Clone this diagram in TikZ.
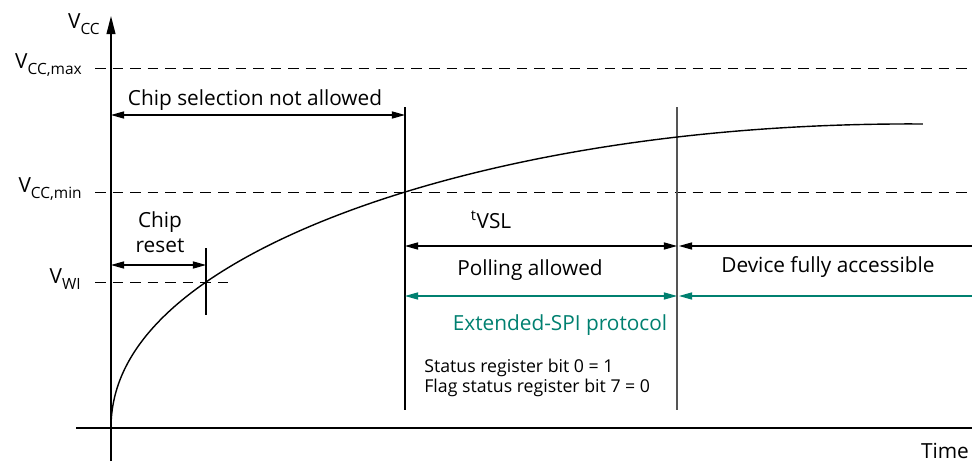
\documentclass[tikz,border=0pt]{standalone}
\usepackage{fontspec}
\setmainfont{Open Sans}
\usetikzlibrary{arrows.meta,positioning}
\definecolor{spiteal}{RGB}{0,128,112}
\definecolor{markgray}{RGB}{85,85,85}
\newcommand{\vsub}[1]{\raisebox{-4.5pt}{\fontsize{11}{11}\selectfont #1}}

\begin{document}
\begin{tikzpicture}[
  x=0.025cm, y=-0.025cm,
  font=\fontsize{14.8}{17.8}\selectfont,
  axis/.style={line width=1pt},
  guide/.style={line width=0.7pt, dash pattern=on 7.5pt off 5pt},
  marker/.style={line width=1pt},
  span/.style={line width=0.8pt, {Triangle[length=3.3mm,width=1.8mm]}-{Triangle[length=3.3mm,width=1.8mm]}},
  lspan/.style={line width=0.8pt, {Triangle[length=3.3mm,width=1.8mm]}-},
  lbl/.style={inner sep=0pt, align=center},
  small/.style={inner sep=0pt, align=left, font=\fontsize{12.6}{14.2}\selectfont}
]
\useasboundingbox (0,0) rectangle (972,461);

\coordinate (ybot) at (111,461);
\coordinate (ytop) at (111,16);
\coordinate (xleft) at (76,428);
\coordinate (xright) at (992,428);

\coordinate (maxl) at (95,68);   \coordinate (maxr) at (972,68);
\coordinate (minl) at (95,192);  \coordinate (minr) at (972,192);
\coordinate (wil) at (95,282);   \coordinate (wir) at (228,282);

\coordinate (selA) at (111,115); \coordinate (selB) at (405,115);
\coordinate (rstA) at (111,265); \coordinate (rstB) at (206,265);
\coordinate (rstT) at (206,248); \coordinate (rstU) at (206,315);

\coordinate (vslT) at (405,107); \coordinate (vslU) at (405,410);
\coordinate (accT) at (677,107); \coordinate (accU) at (677,410);

\coordinate (polA) at (405,246); \coordinate (polB) at (677,246);
\coordinate (devA) at (679,246); \coordinate (devB) at (972,246);
\coordinate (extA) at (405,296); \coordinate (extB) at (677,296);
\coordinate (ex2A) at (679,296); \coordinate (ex2B) at (972,296);

\node[lbl, anchor=base east] (vcc) at (100,28) {V\vsub{CC}};
\node[lbl, anchor=base east] (vmax) at (82,68) {V\vsub{CC,max}};
\node[lbl, anchor=base east] (vmin) at (82,192) {V\vsub{CC,min}};
\node[lbl, anchor=base east] (vwi) at (81,283) {V\vsub{WI}};
\node[lbl, anchor=base] (time) at (945,458) {Time};

\node[lbl, anchor=base] (sel) at (255,105) {Chip selection not allowed};
\node[lbl, anchor=north] (rst) at (160,211) {Chip\\reset};
\node[lbl, anchor=base] (tvsl) at (491,228) {\textsuperscript{t}VSL};
\node[lbl, anchor=base] (poll) at (530,275) {Polling allowed};
\node[lbl, anchor=base] (dev) at (828,272) {Device fully accessible};
\node[lbl, anchor=base, text=spiteal] (ext) at (560,330) {Extended-SPI protocol};
\node[small, anchor=north west] (stat) at (424,359) {Status register bit 0 = 1\\Flag status register bit 7 = 0};

\draw[axis, -{Triangle[length=4.5mm,width=2.2mm]}] (ybot) -- (ytop);
\begin{scope}
  \clip (0,0) rectangle (972,461);
  \draw[axis, -{Triangle[length=4.5mm,width=2.2mm]}] (xleft) -- (xright);
\end{scope}

\draw[guide] (maxl) -- (maxr);
\draw[guide] (minl) -- (minr);
\draw[guide] (wil) -- (wir);

\draw[marker] (vslT) -- (vslU);
\draw[marker, markgray] (accT) -- (accU);
\draw[marker] (rstT) -- (rstU);

\draw[span] (selA) -- (selB);
\draw[span] (rstA) -- (rstB);
\draw[span] (polA) -- (polB);
\draw[lspan] (devA) -- (devB);
\draw[span, spiteal] (extA) -- (extB);
\draw[lspan, spiteal] (ex2A) -- (ex2B);

\draw[line width=1pt] plot[domain=0:2.85, samples=90, smooth]
  ({111+100*\x*\x}, {428-\x*(166.62+\x*(-21.55+\x*(6.514-2.222*\x)))});

\end{tikzpicture}
\end{document}
